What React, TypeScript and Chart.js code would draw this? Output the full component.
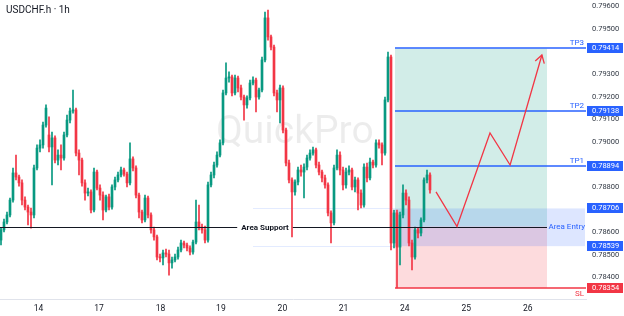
import { useEffect, useRef } from "react";
import { Chart, registerables } from "chart.js";
Chart.register(...registerables);

const FONT = 'Roboto, "Noto Sans", sans-serif';

const opens = [
  0.78566,0.78611,0.78646,0.78677,0.78743,0.78863,0.78845,0.78819,0.78743,0.78712,
  0.78690,0.78677,0.78885,0.78973,0.78987,0.79075,0.79031,0.78978,0.79018,0.78920,
  0.78942,0.78929,0.79031,0.79097,0.79137,0.79142,0.78951,0.78920,0.78819,0.78774,
  0.78779,0.78699,0.78867,0.78796,0.78765,0.78699,0.78757,0.78712,0.78801,0.78832,
  0.78854,0.78876,0.78858,0.78819,0.78925,0.78885,0.78765,0.78690,0.78655,0.78752,
  0.78677,0.78611,0.78580,0.78491,0.78487,0.78509,0.78504,0.78465,0.78478,0.78491,
  0.78522,0.78553,0.78544,0.78531,0.78513,0.78557,0.78646,0.78624,0.78611,0.78566,
  0.78810,0.78854,0.78898,0.78942,0.78996,0.79217,0.79283,0.79288,0.79217,0.79283,
  0.79239,0.79199,0.79164,0.79195,0.79261,0.79274,0.79199,0.79230,0.79363,0.79549,
  0.79465,0.79420,0.79217,0.79186,0.79239,0.79053,0.78907,0.78832,0.78779,0.78823,
  0.78876,0.78867,0.78889,0.78929,0.78951,0.78965,0.78898,0.78867,0.78841,0.78810,
  0.78686,0.78642,0.78885,0.78942,0.78876,0.78810,0.78867,0.78876,0.78801,0.78832,
  0.78774,0.78721,0.78889,0.78841,0.78911,0.78898,0.78996,0.78987,0.78951,0.79186,
  0.79376,0.78553,0.78686,0.78535,0.78677,0.78774,0.78743,0.78553,0.78491,0.78611,
  0.78597,0.78655,0.78832,0.78854,
];
const highs = [
  0.78619,0.78659,0.78690,0.78752,0.78885,0.78942,0.78854,0.78832,0.78757,0.78721,
  0.78708,0.78898,0.78987,0.79009,0.79088,0.79164,0.79111,0.79044,0.79027,0.78965,
  0.78987,0.79044,0.79119,0.79150,0.79230,0.79150,0.78965,0.78929,0.78832,0.78796,
  0.78788,0.78885,0.78876,0.78810,0.78779,0.78765,0.78770,0.78810,0.78845,0.78867,
  0.78889,0.78885,0.78867,0.78996,0.78934,0.78894,0.78774,0.78699,0.78765,0.78761,
  0.78686,0.78624,0.78588,0.78504,0.78522,0.78526,0.78522,0.78491,0.78504,0.78535,
  0.78566,0.78562,0.78553,0.78540,0.78566,0.78743,0.78721,0.78637,0.78628,0.78823,
  0.78867,0.78911,0.78956,0.79009,0.79230,0.79350,0.79310,0.79296,0.79296,0.79292,
  0.79252,0.79208,0.79204,0.79274,0.79288,0.79283,0.79239,0.79376,0.79575,0.79584,
  0.79473,0.79429,0.79230,0.79252,0.79248,0.79062,0.78920,0.78841,0.78832,0.78889,
  0.78898,0.78903,0.78942,0.78965,0.78978,0.78973,0.78911,0.78876,0.78854,0.78819,
  0.78695,0.78898,0.78965,0.78956,0.78889,0.78885,0.78894,0.78885,0.78845,0.78841,
  0.78788,0.78903,0.78907,0.78929,0.78920,0.79009,0.79009,0.78996,0.79199,0.79398,
  0.79385,0.78699,0.78699,0.78690,0.78810,0.78788,0.78757,0.78566,0.78624,0.78619,
  0.78664,0.78841,0.78876,0.78863,
];
const lows = [
  0.78544,0.78602,0.78637,0.78668,0.78734,0.78832,0.78805,0.78721,0.78699,0.78633,
  0.78619,0.78664,0.78876,0.78956,0.78973,0.79066,0.78956,0.78810,0.78907,0.78898,
  0.78876,0.78920,0.79022,0.79084,0.79128,0.78938,0.78854,0.78805,0.78743,0.78761,
  0.78686,0.78690,0.78788,0.78743,0.78655,0.78690,0.78699,0.78703,0.78788,0.78823,
  0.78845,0.78849,0.78801,0.78810,0.78872,0.78752,0.78664,0.78642,0.78646,0.78664,
  0.78597,0.78566,0.78478,0.78469,0.78456,0.78491,0.78411,0.78442,0.78469,0.78482,
  0.78513,0.78531,0.78518,0.78500,0.78504,0.78549,0.78611,0.78597,0.78553,0.78557,
  0.78801,0.78841,0.78889,0.78934,0.78987,0.79208,0.79265,0.79204,0.79208,0.79221,
  0.79186,0.79097,0.79150,0.79186,0.79252,0.79133,0.79190,0.79221,0.79354,0.79451,
  0.79407,0.79204,0.79133,0.79084,0.79040,0.78894,0.78819,0.78580,0.78765,0.78810,
  0.78849,0.78752,0.78876,0.78920,0.78942,0.78885,0.78854,0.78823,0.78796,0.78673,
  0.78553,0.78633,0.78876,0.78854,0.78788,0.78796,0.78854,0.78788,0.78779,0.78699,
  0.78708,0.78712,0.78823,0.78832,0.78885,0.78889,0.78973,0.78898,0.78942,0.79177,
  0.78522,0.78531,0.78354,0.78456,0.78664,0.78721,0.78540,0.78434,0.78482,0.78575,
  0.78584,0.78646,0.78819,0.78774,
];
const closes = [
  0.78611,0.78646,0.78677,0.78743,0.78863,0.78845,0.78819,0.78743,0.78712,0.78690,
  0.78677,0.78885,0.78973,0.78987,0.79075,0.79150,0.78978,0.79018,0.78920,0.78942,
  0.78929,0.79031,0.79097,0.79137,0.79142,0.78951,0.78920,0.78819,0.78774,0.78779,
  0.78699,0.78867,0.78796,0.78765,0.78699,0.78757,0.78712,0.78801,0.78832,0.78854,
  0.78876,0.78858,0.78819,0.78925,0.78885,0.78765,0.78690,0.78655,0.78752,0.78677,
  0.78611,0.78580,0.78491,0.78487,0.78509,0.78504,0.78465,0.78478,0.78491,0.78522,
  0.78553,0.78544,0.78531,0.78513,0.78557,0.78646,0.78624,0.78611,0.78566,0.78810,
  0.78854,0.78898,0.78942,0.78996,0.79217,0.79283,0.79288,0.79217,0.79283,0.79239,
  0.79199,0.79164,0.79195,0.79261,0.79274,0.79199,0.79230,0.79363,0.79549,0.79465,
  0.79420,0.79217,0.79186,0.79239,0.79053,0.78907,0.78832,0.78779,0.78823,0.78876,
  0.78867,0.78889,0.78929,0.78951,0.78965,0.78898,0.78867,0.78841,0.78810,0.78686,
  0.78642,0.78885,0.78942,0.78876,0.78810,0.78867,0.78876,0.78801,0.78832,0.78774,
  0.78721,0.78889,0.78841,0.78911,0.78898,0.78996,0.78987,0.78951,0.79186,0.79376,
  0.78553,0.78686,0.78535,0.78677,0.78774,0.78743,0.78553,0.78491,0.78611,0.78597,
  0.78655,0.78832,0.78854,0.78788,
];

const dayLabels = ["14", "17", "18", "19", "20", "21", "24", "25", "26"];
const dayTickIndex = [12.5, 32.7, 53.2, 73.3, 93.8, 114.2, 134.6, 155.1, 175.6];
const priceTicks = [0.784, 0.785, 0.786, 0.787, 0.788, 0.789, 0.79, 0.791, 0.792, 0.793, 0.794, 0.795, 0.796];

const xMin = -0.333;
const xMax = 195;
const priceMin = 0.783052;
const priceMax = 0.796283;

const tpPrices = [0.79414, 0.79138, 0.78894];
const tpNames = ["TP3", "TP2", "TP1"];
const entryHigh = 0.78706;
const entryLow = 0.78539;
const slPrice = 0.78354;
const supportPrice = 0.78626;

const positionStart = 131.33;
const positionEnd = 182;
const areaRectStart = 131.33;
const areaRectEnd = 194.67;
const areaLineStart = 84;
const supportLabelIndex = 88;

const pathIndex = [145, 152, 163, 169.7, 180.3];
const pathPrice = [0.78779, 0.78626, 0.7904, 0.78898, 0.79385];

const GREEN = "#089981";
const RED = "#f23645";
const BLUE = "#2962ff";

const overlay = {
  id: "overlay",
  beforeDraw(chart: any) {
    const { ctx } = chart;
    ctx.save();
    ctx.fillStyle = "#ffffff";
    ctx.fillRect(0, 0, chart.width, chart.height);
    ctx.restore();
  },
  beforeDatasetsDraw(chart: any) {
    const { ctx } = chart;
    const xs = chart.scales.x;
    const ys = chart.scales.y;
    ctx.save();
    ctx.font = `39px ${FONT}`;
    ctx.fillStyle = "rgba(0,0,0,0.075)";
    ctx.textAlign = "left";
    ctx.textBaseline = "alphabetic";
    ctx.fillText("QuickPro", 216, 143);

    const x0 = xs.getPixelForValue(positionStart);
    const x1 = xs.getPixelForValue(positionEnd);
    const yTop = ys.getPixelForValue(tpPrices[0]);
    const yEntry = ys.getPixelForValue(supportPrice);
    const ySL = ys.getPixelForValue(slPrice);
    ctx.fillStyle = "rgba(8,153,129,0.18)";
    ctx.fillRect(x0, yTop, x1 - x0, yEntry - yTop);
    ctx.fillStyle = "rgba(242,54,69,0.18)";
    ctx.fillRect(x0, yEntry, x1 - x0, ySL - yEntry);

    const ax0 = xs.getPixelForValue(areaRectStart);
    const ax1 = xs.getPixelForValue(areaRectEnd);
    const ayT = ys.getPixelForValue(entryHigh);
    const ayB = ys.getPixelForValue(entryLow);
    ctx.fillStyle = "rgba(41,98,255,0.16)";
    ctx.fillRect(ax0, ayT, ax1 - ax0, ayB - ayT);
    const lx0 = xs.getPixelForValue(areaLineStart);
    ctx.strokeStyle = "rgba(41,98,255,0.13)";
    ctx.lineWidth = 1;
    ctx.beginPath();
    ctx.moveTo(lx0, Math.round(ayT) + 0.5);
    ctx.lineTo(ax0, Math.round(ayT) + 0.5);
    ctx.moveTo(lx0, Math.round(ayB) + 0.5);
    ctx.lineTo(ax0, Math.round(ayB) + 0.5);
    ctx.stroke();
    ctx.restore();
  },
  afterDatasetsDraw(chart: any) {
    const { ctx, chartArea } = chart;
    const xs = chart.scales.x;
    const ys = chart.scales.y;
    ctx.save();
    const x0 = xs.getPixelForValue(positionStart);
    const x1 = xs.getPixelForValue(positionEnd);
    const right = chartArea.right;

    // Support line
    const sy = Math.round(ys.getPixelForValue(supportPrice)) + 0.5;
    const sx = xs.getPixelForValue(supportLabelIndex);
    ctx.font = `bold 8px ${FONT}`;
    const tw = ctx.measureText("Area Support").width;
    ctx.strokeStyle = "#131722";
    ctx.lineWidth = 1;
    ctx.beginPath();
    ctx.moveTo(xs.getPixelForValue(xMin), sy);
    ctx.lineTo(sx - tw / 2 - 4, sy);
    ctx.moveTo(sx + tw / 2 + 4, sy);
    ctx.lineTo(x1, sy);
    ctx.stroke();
    ctx.fillStyle = "#131722";
    ctx.textAlign = "center";
    ctx.textBaseline = "middle";
    ctx.fillText("Area Support", sx, sy);

    // TP lines
    ctx.font = `8px ${FONT}`;
    tpPrices.forEach((p, k) => {
      const y = Math.round(ys.getPixelForValue(p));
      ctx.strokeStyle = BLUE;
      ctx.lineWidth = 1.5;
      ctx.beginPath();
      ctx.moveTo(x0, y);
      ctx.lineTo(right, y);
      ctx.stroke();
      ctx.fillStyle = BLUE;
      ctx.textAlign = "right";
      ctx.textBaseline = "alphabetic";
      ctx.fillText(tpNames[k], right - 2, y - 3);
    });

    // SL line
    const slY = Math.round(ys.getPixelForValue(slPrice));
    ctx.strokeStyle = RED;
    ctx.lineWidth = 1.5;
    ctx.beginPath();
    ctx.moveTo(x0, slY);
    ctx.lineTo(right, slY);
    ctx.stroke();
    ctx.fillStyle = RED;
    ctx.textAlign = "right";
    ctx.textBaseline = "top";
    ctx.fillText("SL", right - 2, slY + 2);

    // Area Entry text
    const eMid = (ys.getPixelForValue(entryHigh) + ys.getPixelForValue(entryLow)) / 2;
    ctx.fillStyle = BLUE;
    ctx.textAlign = "right";
    ctx.textBaseline = "middle";
    ctx.fillText("Area Entry", right - 1, eMid);

    // projected path
    const pts = pathIndex.map((v, k) => [xs.getPixelForValue(v), ys.getPixelForValue(pathPrice[k])]);
    ctx.strokeStyle = RED;
    ctx.lineWidth = 1.3;
    ctx.beginPath();
    pts.forEach(([px, py], k) => (k === 0 ? ctx.moveTo(px, py) : ctx.lineTo(px, py)));
    ctx.stroke();
    const [ex, ey] = pts[pts.length - 1];
    const [bx, by] = pts[pts.length - 2];
    const ang = Math.atan2(ey - by, ex - bx);
    const L = 9;
    ctx.beginPath();
    ctx.moveTo(ex - L * Math.cos(ang - 0.55), ey - L * Math.sin(ang - 0.55));
    ctx.lineTo(ex, ey);
    ctx.lineTo(ex - L * Math.cos(ang + 0.55), ey - L * Math.sin(ang + 0.55));
    ctx.stroke();

    // price labels on axis
    const box = (p: number, color: string) => {
      const y = ys.getPixelForValue(p);
      ctx.fillStyle = color;
      ctx.fillRect(right + 1, Math.round(y) - 5, 36, 10);
      ctx.fillStyle = "#ffffff";
      ctx.font = `7.5px ${FONT}`;
      ctx.textAlign = "left";
      ctx.textBaseline = "middle";
      ctx.fillText(p.toFixed(5), right + 6, Math.round(y) + 0.5);
    };
    tpPrices.forEach((p) => box(p, BLUE));
    box(entryHigh, BLUE);
    box(entryLow, BLUE);
    box(slPrice, RED);

    // title
    ctx.font = `10px ${FONT}`;
    ctx.fillStyle = "#131722";
    ctx.textAlign = "left";
    ctx.textBaseline = "middle";
    ctx.fillText("USDCHF.h \u00b7 1h", 6, 10);
    ctx.restore();
  },
};

export default function App() {
  const ref = useRef<HTMLCanvasElement>(null);
  useEffect(() => {
    document.body.style.margin = "0";
    const canvas = ref.current!;
    const colors = closes.map((c, i) => (c >= opens[i] ? GREEN : RED));
    const chart = new Chart(canvas, {
      type: "bar",
      data: {
        datasets: [
          {
            data: closes.map((_, i) => ({ x: i, y: [lows[i], highs[i]] })) as any,
            backgroundColor: colors,
            barThickness: 1,
            grouped: false,
            order: 2,
          } as any,
          {
            data: closes.map((c, i) => ({ x: i, y: [opens[i], c] })) as any,
            backgroundColor: colors,
            barThickness: 2,
            minBarLength: 1,
            grouped: false,
            order: 1,
          } as any,
        ],
      },
      options: {
        animation: false,
        responsive: false,
        events: [],
        layout: { padding: 0 },
        plugins: { legend: { display: false }, tooltip: { enabled: false } },
        scales: {
          x: {
            type: "linear",
            min: xMin,
            max: xMax,
            offset: false,
            grid: { display: false, drawTicks: false },
            border: { display: true, color: "#e0e3eb" },
            afterBuildTicks: (axis: any) => {
              axis.ticks = dayTickIndex.map((v) => ({ value: v }));
            },
            afterFit: (axis: any) => {
              axis.height = 17;
              axis.paddingLeft = 0;
              axis.paddingRight = 0;
            },
            ticks: {
              autoSkip: false,
              maxRotation: 0,
              padding: 5,
              color: "#131722",
              font: { family: FONT, size: 8.5 },
              callback: (_v: any, idx: number) => dayLabels[idx],
            },
          },
          y: {
            type: "linear",
            position: "right",
            min: priceMin,
            max: priceMax,
            beginAtZero: false,
            grid: { display: false, drawTicks: false },
            border: { display: false },
            afterBuildTicks: (axis: any) => {
              axis.ticks = priceTicks.map((v) => ({ value: v }));
            },
            afterFit: (axis: any) => {
              axis.width = 38;
              axis.paddingTop = 0;
              axis.paddingBottom = 0;
            },
            ticks: {
              padding: 6,
              color: "#333a45",
              font: { family: FONT, size: 7.5 },
              callback: (v: any) => Number(v).toFixed(5),
            },
          },
        },
      },
      plugins: [overlay],
    });
    return () => chart.destroy();
  }, []);
  return (
    <div style={{ width: 624, height: 316 }}>
      <canvas ref={ref} width={624} height={316} />
    </div>
  );
}
